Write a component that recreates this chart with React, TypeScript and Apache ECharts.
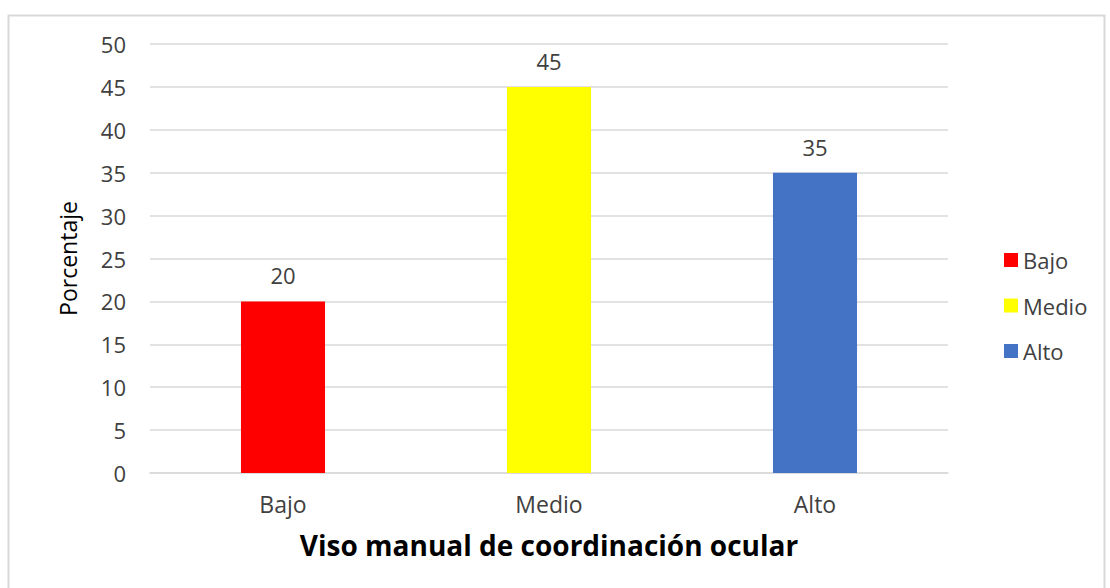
import React, { useEffect, useRef } from "react";
import * as echarts from "echarts";

const categories = ["Bajo", "Medio", "Alto"];
const values = [20, 45, 35];
const colors = ["#FF0000", "#FFFF00", "#4472C4"];
const yTitle = "Porcentaje";
const xTitle = "Viso manual de coordinación ocular";

export default function App() {
  const ref = useRef<HTMLDivElement>(null);
  useEffect(() => {
    const chart = echarts.init(ref.current!, null, { renderer: "svg" });
    const font = "'Open Sans', 'Noto Sans', sans-serif";
    const series = categories.map((c, i) => ({
      name: c,
      type: "bar",
      stack: "s",
      barWidth: "31.6%",
      itemStyle: { color: colors[i] },
      label: {
        show: true,
        position: "top",
        distance: 15,
        color: "#404040",
        fontSize: 22,
        fontFamily: font,
        formatter: (p: any) => (p.value == null ? "" : String(p.value)),
      },
      data: categories.map((_, j) => (j === i ? values[i] : null)),
    }));
    chart.setOption({
      animation: false,
      backgroundColor: "#fff",
      textStyle: { fontFamily: font },
      grid: { left: 150, right: 162, top: 44, bottom: 115 },
      legend: {
        orient: "vertical",
        left: 999,
        top: 244,
        itemWidth: 14,
        itemHeight: 14,
        itemGap: 23.5,
        icon: "rect",
        textStyle: { fontSize: 22, color: "#404040", fontFamily: font },
        data: categories,
      },
      xAxis: {
        type: "category",
        data: categories,
        axisLine: { lineStyle: { color: "#d9d9d9", width: 1.5 } },
        axisTick: { show: false },
        axisLabel: { fontSize: 23, color: "#404040", margin: 19, fontFamily: font },
        name: xTitle,
        nameLocation: "middle",
        nameGap: 58,
        nameTextStyle: { fontSize: 28, fontWeight: "bold", color: "#000", fontFamily: font },
      },
      yAxis: {
        type: "value",
        min: 0,
        max: 50,
        interval: 5,
        axisLine: { show: false },
        axisTick: { show: false },
        splitLine: { lineStyle: { color: "#d9d9d9", width: 1.5 } },
        axisLabel: { fontSize: 22, color: "#404040", margin: 24, fontFamily: font },
        name: yTitle,
        nameLocation: "middle",
        nameGap: 71,
        nameRotate: 90,
        nameTextStyle: { fontSize: 23, color: "#000", fontFamily: font },
      },
      graphic: [
        {
          type: "rect",
          shape: { x: 8.5, y: 15.5, width: 1096, height: 600 },
          style: { fill: "none", stroke: "#d9d9d9", lineWidth: 2 },
          silent: true,
        },
      ],
      series,
    });
    return () => chart.dispose();
  }, []);
  return (
    <div
      ref={ref}
      style={{ position: "fixed", left: 0, top: 0, width: 1110, height: 588 }}
    />
  );
}
